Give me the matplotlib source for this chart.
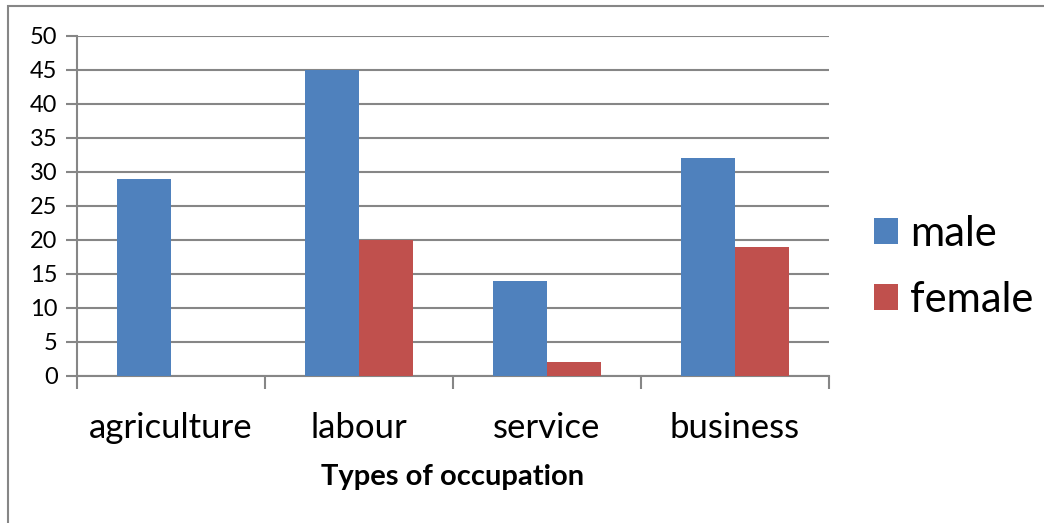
import matplotlib.pyplot as plt
import numpy as np
from matplotlib.patches import Rectangle

categories = ["agriculture", "labour", "service", "business"]
male = [29, 45, 14, 32]
female = [0, 20, 2, 19]
yticks = [0, 5, 10, 15, 20, 25, 30, 35, 40, 45, 50]

plt.rcParams['font.family'] = ['Lato', 'DejaVu Sans']

fig = plt.figure(figsize=(10.44, 5.23), dpi=100)
ax = fig.add_axes([77 / 1044, 1 - 376 / 523, (829 - 77) / 1044, (376 - 36) / 523])

# outer chart frame (cut off at right/bottom like the source)
fig.patches.append(Rectangle((8 / 1044, -0.1), 1.2, (523 - 6) / 523 + 0.1,
                             transform=fig.transFigure, fill=False,
                             edgecolor='#868686', linewidth=1.5))

x = np.arange(len(categories))
w = 1 / 3.5
ax.bar(x - w / 2, male, w, color='#4f81bd', label='male', zorder=3)
ax.bar(x + w / 2, female, w, color='#c0504d', label='female', zorder=3)

ax.set_xlim(-0.5, len(categories) - 0.5)
ax.set_ylim(0, 50)
ax.set_yticks(yticks)
ax.yaxis.grid(True, color='#868686', linewidth=1.5, zorder=0)
ax.set_axisbelow(True)

for s in ['top', 'right']:
    ax.spines[s].set_visible(False)
for s in ['left', 'bottom']:
    ax.spines[s].set_color('#868686')
    ax.spines[s].set_linewidth(1.5)

ax.set_xticks(x)
ax.set_xticklabels(categories, fontsize=25)
ax.tick_params(axis='x', length=0, pad=26)
ax.set_xticks(np.arange(len(categories) + 1) - 0.5, minor=True)
ax.tick_params(axis='x', which='minor', length=9, width=1.5, color='#868686', direction='out')
ax.tick_params(axis='y', length=8, width=1.5, color='#868686', labelsize=17, pad=6)

ax.set_xlabel("Types of occupation", fontsize=21, fontweight='bold', labelpad=14)

fig.legend(loc='center left', bbox_to_anchor=(836 / 1044, 1 - 267 / 523),
           frameon=False, fontsize=30, handlelength=0.58, handleheight=0.58,
           handletextpad=0.3, labelspacing=0.67)

fig.savefig("out.png", dpi=100)
